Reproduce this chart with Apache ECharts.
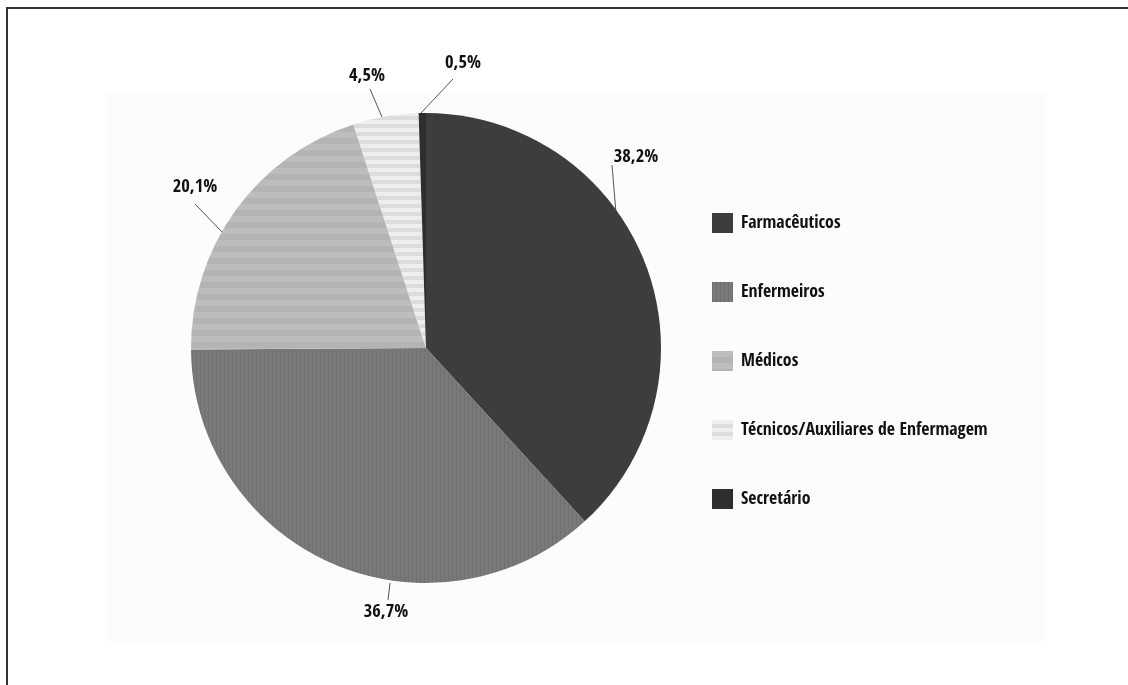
<!DOCTYPE html>
<html>

<head>
    <meta charset="utf-8" />
    <script src="https://cdn.jsdelivr.net/npm/echarts@6/dist/echarts.min.js"></script>
    <style>
        html, body { margin: 0; padding: 0; background: #fff; }
    </style>
</head>

<body>
    <div id="main" style="width: 1128px;height:685px;"></div>
    <script type="text/javascript">
        // categorias e valores (%)
        const categorias = ['Farmacêuticos', 'Enfermeiros', 'Médicos', 'Técnicos/Auxiliares de Enfermagem', 'Secretário'];
        const valores = [38.2, 36.7, 20.1, 4.5, 0.5];
        const rotulos = ['38,2%', '36,7%', '20,1%', '4,5%', '0,5%'];

        const cores = ['#3d3d3d', '#797979', '#b4b4b4', '#dcdcdc', '#2e2e2e'];
        // texturas suaves
        const texturas = [
            { symbol: 'none' },
            { symbol: 'rect', color: 'rgba(0,0,0,0.06)', dashArrayX: [1, 3], dashArrayY: [10, 0], symbolSize: 1, rotation: 0 },
            { symbol: 'rect', color: 'rgba(255,255,255,0.12)', dashArrayX: [10, 0], dashArrayY: [6, 6], symbolSize: 1, rotation: 0 },
            { symbol: 'rect', color: 'rgba(255,255,255,0.5)', dashArrayX: [10, 0], dashArrayY: [4, 4], symbolSize: 1, rotation: 0 },
            { symbol: 'none' }
        ];
        // posição dos rótulos e das linhas guia (px)
        const posRotulo = [[636, 157], [386, 612], [195, 187], [367, 76], [463, 63]];
        const linhaGuia = [
            [[612, 165], [616, 213]],
            [[388, 600], [390, 583]],
            [[195, 204], [223, 233]],
            [[370, 89], [382, 117]],
            [[453, 79], [421, 113]]
        ];

        const fonte = '"Open Sans Condensed", "Roboto Condensed", "DejaVu Sans Condensed", sans-serif';

        const myChart = echarts.init(document.getElementById('main'), null, { renderer: 'canvas' });

        const option = {
            animation: false,
            aria: { enabled: true, decal: { show: true } },
            graphic: [
                {
                    type: 'rect', z: -10, silent: true,
                    shape: { x: 107, y: 92, width: 939, height: 550 },
                    style: { fill: '#fcfcfc' }
                },
                {
                    type: 'rect', z: 100, silent: true,
                    shape: { x: 7, y: 8, width: 1200, height: 800 },
                    style: { fill: 'none', stroke: '#333', lineWidth: 2 }
                }
            ],
            legend: {
                orient: 'vertical',
                left: 707,
                top: 208,
                itemWidth: 21,
                itemHeight: 20,
                itemGap: 49,
                icon: 'rect',
                data: categorias,
                textStyle: {
                    fontFamily: fonte,
                    fontWeight: 'bold',
                    fontSize: 17.8,
                    lineHeight: 20,
                    color: '#111',
                    padding: [0, 0, 0, 3]
                }
            },
            series: [{
                type: 'pie',
                center: [426, 348],
                radius: 235,
                startAngle: 90,
                clockwise: true,
                avoidLabelOverlap: false,
                data: categorias.map(function (nome, i) {
                    return { name: nome, value: valores[i], itemStyle: { color: cores[i], decal: texturas[i] } };
                }),
                label: {
                    show: true,
                    position: 'outside',
                    formatter: function (p) { return rotulos[p.dataIndex]; },
                    fontFamily: fonte,
                    fontWeight: 'bold',
                    fontSize: 18.5,
                    color: '#111'
                },
                labelLine: {
                    show: true,
                    length: 10,
                    length2: 0,
                    lineStyle: { color: '#555', width: 1 }
                },
                labelLayout: function (params) {
                    const i = params.dataIndex;
                    return {
                        x: posRotulo[i][0], y: posRotulo[i][1],
                        align: 'center', verticalAlign: 'middle',
                        labelLinePoints: [linhaGuia[i][1], linhaGuia[i][0], linhaGuia[i][0]]
                    };
                },
                emphasis: { disabled: true }
            }]
        };

        myChart.setOption(option);
        window.addEventListener('resize', myChart.resize);
    </script>
</body>

</html>
